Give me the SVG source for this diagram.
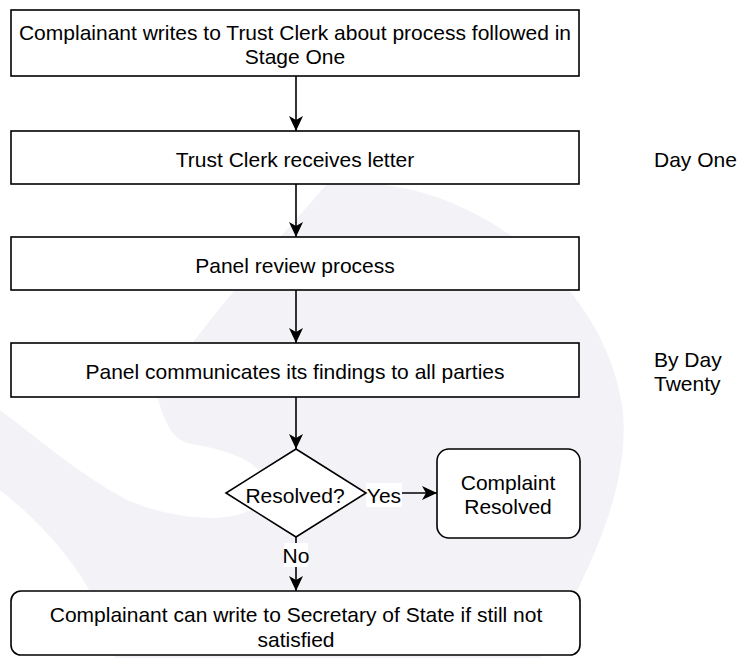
<svg xmlns="http://www.w3.org/2000/svg" width="738" height="658" viewBox="0 0 738 658">
<style>
.box{fill:#fff;stroke:#000;stroke-width:1.6}
.t{font-family:"Liberation Sans",Arial,Helvetica,sans-serif;font-size:21px;fill:#000}
.c{text-anchor:middle}
.edge{fill:none;stroke:#000;stroke-width:1.6}
.wm{fill:#f2f2f7}
.lbl{fill:#fff}
</style>
<defs>
<marker id="ah" viewBox="0 0 15 14" refX="15" refY="7" markerWidth="15" markerHeight="14" orient="auto" markerUnits="userSpaceOnUse">
<path d="M0,0 L15,7 L0,14 L4,7 Z" fill="#000"/>
</marker>
</defs>
<rect width="738" height="658" fill="#fff"/>
<g id="watermark">
<path class="wm" d="M360,140 C372,150 380,175 385,185 C500,200 605,295 622,405 C632,480 595,565 540,658 L115,658 C108,610 70,545 0,490 L0,410 C60,405 120,400 157,397 C180,350 260,260 327,184 C335,165 348,148 360,140 Z"/>
<path fill="#fff" d="M157,397 C165,420 170,440 192,444 C225,450 255,458 265,480 C272,500 255,516 215,518 C180,518 150,510 127,500 C80,475 40,440 0,410 L0,390 L150,390 Z"/>
</g>
<g id="connectors">
<line class="edge" x1="296" y1="76" x2="296" y2="131" marker-end="url(#ah)"/>
<line class="edge" x1="296" y1="184" x2="296" y2="237" marker-end="url(#ah)"/>
<line class="edge" x1="296" y1="290" x2="296" y2="343" marker-end="url(#ah)"/>
<line class="edge" x1="296" y1="397" x2="296" y2="449" marker-end="url(#ah)"/>
<line class="edge" x1="366" y1="493" x2="437" y2="493" marker-end="url(#ah)"/>
<rect class="lbl" x="366" y="483" width="36" height="24"/>
<text class="t c" x="384" y="503">Yes</text>
<line class="edge" x1="296" y1="537" x2="296" y2="591" marker-end="url(#ah)"/>
<rect class="lbl" x="284" y="543" width="24" height="24"/>
<text class="t c" x="296" y="563">No</text>
</g>
<g id="n1">
<rect class="box" x="11" y="10" width="568" height="66"/>
<text class="t c" x="295" y="40">Complainant writes to Trust Clerk about process followed in</text>
<text class="t c" x="295" y="64">Stage One</text>
</g>
<g id="n2">
<rect class="box" x="11" y="131" width="568" height="53"/>
<text class="t c" x="295" y="167">Trust Clerk receives letter</text>
</g>
<g id="n3">
<rect class="box" x="11" y="237" width="568" height="53"/>
<text class="t c" x="295" y="273">Panel review process</text>
</g>
<g id="n4">
<rect class="box" x="11" y="343" width="568" height="54"/>
<text class="t c" x="295" y="379">Panel communicates its findings to all parties</text>
</g>
<g id="n5">
<path class="box" d="M296,449 L366,493 L296,537 L226,493 Z"/>
<text class="t c" x="295" y="503">Resolved?</text>
</g>
<g id="n6">
<rect class="box" x="437" y="449" width="143" height="89" rx="12" ry="12"/>
<text class="t c" x="508" y="490">Complaint</text>
<text class="t c" x="508" y="514">Resolved</text>
</g>
<g id="n7">
<rect class="box" x="11" y="591" width="569" height="64" rx="10" ry="10"/>
<text class="t c" x="296" y="622">Complainant can write to Secretary of State if still not</text>
<text class="t c" x="296" y="647">satisfied</text>
</g>
<g id="day1">
<text class="t" x="654" y="167">Day One</text>
</g>
<g id="day20">
<text class="t" x="654" y="367">By Day</text>
<text class="t" x="654" y="391">Twenty</text>
</g>
</svg>
